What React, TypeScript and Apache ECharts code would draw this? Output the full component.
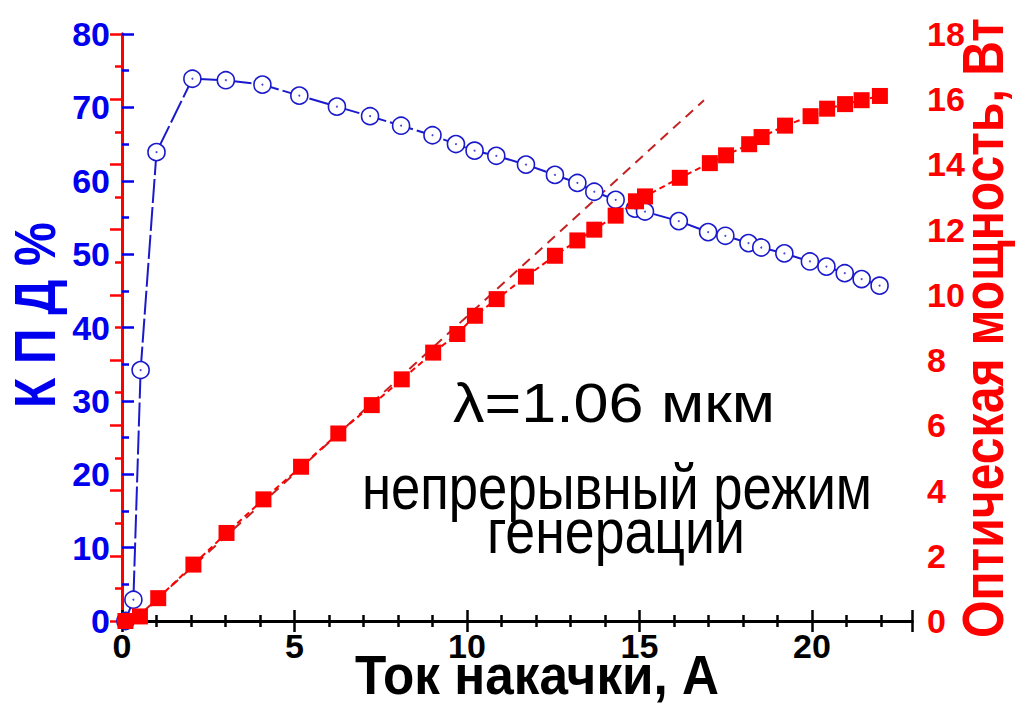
import React, { useEffect, useRef } from "react";
import * as echarts from "echarts";

// Efficiency (КПД, %) vs pump current (A)
const EFF_I = [0.1, 0.33, 0.54, 1.0, 2.04, 3.01, 4.07, 5.14, 6.23, 7.19, 8.09, 9.0, 9.68, 10.22, 10.85, 11.71, 12.55, 13.2, 13.69, 14.31, 14.87, 15.16, 16.14, 16.99, 17.49, 18.16, 18.53, 19.2, 19.94, 20.42, 20.95, 21.44, 21.96];
const EFF = [0, 2.9, 34.2, 63.9, 73.9, 73.7, 73.1, 71.6, 70.1, 68.8, 67.5, 66.2, 65.0, 64.1, 63.4, 62.2, 60.8, 59.7, 58.5, 57.4, 56.2, 55.8, 54.5, 53.0, 52.5, 51.5, 50.9, 50.1, 49.0, 48.3, 47.4, 46.6, 45.7];

// Optical power (W) vs pump current (A)
const POW_I = [0.1, 0.52, 1.05, 2.07, 3.03, 4.1, 5.19, 6.27, 7.24, 8.11, 9.02, 9.72, 10.23, 10.86, 11.71, 12.55, 13.2, 13.69, 14.31, 14.9, 15.16, 16.17, 17.04, 17.51, 18.18, 18.54, 19.22, 19.96, 20.44, 20.96, 21.44, 21.97];
const POW = [0, 0.14, 0.7, 1.73, 2.7, 3.73, 4.73, 5.75, 6.62, 7.41, 8.23, 8.8, 9.36, 9.87, 10.56, 11.2, 11.67, 12.0, 12.43, 12.87, 13.02, 13.59, 14.04, 14.28, 14.62, 14.84, 15.19, 15.48, 15.71, 15.85, 15.97, 16.1];

// Linear fit (dashed)
const FIT_I = [0.32, 16.87];
const FIT_P = [0, 15.97];

const X_TICKS = [0, 5, 10, 15, 20];
const LEFT_TICKS = [0, 10, 20, 30, 40, 50, 60, 70, 80];
const RIGHT_TICKS = [0, 2, 4, 6, 8, 10, 12, 14, 16, 18];

const X_TITLE = "Ток накачки, А";
const LEFT_TITLE = "К П Д %";
const RIGHT_TITLE = "Оптическая мощность, Вт";
const NOTE_1 = "λ=1.06 мкм";
const NOTE_2 = "непрерывный режим";
const NOTE_3 = "генерации";

const BLUE = "#0000ee";
const BLUE_MARK = "#1a1acc";
const RED = "#ff0000";
const FIT_RED = "#c42222";
const SANS = "'Liberation Sans', Arial, sans-serif";

const zip = (a: number[], b: number[]) => a.map((v, i) => [v, b[i]]);

function fitScale(text: string, font: string, target: number): number {
  const ctx = document.createElement("canvas").getContext("2d");
  if (!ctx) return 1;
  ctx.font = font;
  const w = ctx.measureText(text).width;
  return w > 0 ? target / w : 1;
}

export default function App() {
  const ref = useRef<HTMLDivElement>(null);
  useEffect(() => {
    if (!ref.current) return;
    const chart = echarts.init(ref.current, null, { renderer: "svg" });
    const tickLabel = (color: string) => ({
      color,
      fontSize: 34,
      fontWeight: "bold" as const,
      fontFamily: SANS,
    });
    const xCommon = {
      type: "value" as const,
      min: X_TICKS[0],
      max: 22.9,
      interval: X_TICKS[1] - X_TICKS[0],
      splitLine: { show: false },
      axisLine: { show: true, lineStyle: { color: "#000", width: 3 } },
      axisTick: { show: true, inside: true, length: 11, lineStyle: { color: "#000", width: 2.5 } },
      minorTick: { show: true, splitNumber: 5, length: 6, lineStyle: { color: "#000", width: 2.5 } },
    };
    const fontFor = (size: number, bold: boolean) => `${bold ? "bold " : ""}${size}px 'Liberation Sans', Arial, sans-serif`;
    const xTitleScale = fitScale(X_TITLE, fontFor(52, true), 364);
    const leftTitleScale = fitScale(LEFT_TITLE, fontFor(58, true), 186);
    const rightTitleScale = fitScale(RIGHT_TITLE, fontFor(55, true), 620);
    const note1Scale = fitScale(NOTE_1, fontFor(56, false), 322);
    const note2Scale = fitScale(NOTE_2, fontFor(52, false), 510);
    const note3Scale = fitScale(NOTE_3, fontFor(52, false), 258);

    chart.setOption({
      animation: false,
      backgroundColor: "#fff",
      grid: { left: 122, right: 103, top: 34, bottom: 85, containLabel: false, outerBoundsMode: "none" },
      xAxis: [
        {
          ...xCommon,
          position: "bottom",
          axisLabel: { ...tickLabel("#000"), margin: 8, showMaxLabel: false, formatter: (v: number) => (X_TICKS.includes(v) ? String(v) : "") },
        },
        {
          ...xCommon,
          position: "top",
          axisLabel: { show: false },
        },
      ],
      yAxis: [
        {
          type: "value",
          position: "left",
          min: LEFT_TICKS[0],
          max: LEFT_TICKS[LEFT_TICKS.length - 1],
          interval: LEFT_TICKS[1] - LEFT_TICKS[0],
          splitLine: { show: false },
          axisLine: { show: true, lineStyle: { color: BLUE, width: 3 } },
          axisTick: { show: true, inside: true, length: 12, lineStyle: { color: BLUE, width: 2.5 } },
          minorTick: { show: true, splitNumber: 2, length: 7, lineStyle: { color: BLUE, width: 2.5 } },
          axisLabel: { ...tickLabel(BLUE), margin: 12 },
        },
        {
          type: "value",
          position: "right",
          min: RIGHT_TICKS[0],
          max: RIGHT_TICKS[RIGHT_TICKS.length - 1],
          interval: RIGHT_TICKS[1] - RIGHT_TICKS[0],
          splitLine: { show: false },
          axisLine: { show: true, lineStyle: { color: RED, width: 3 } },
          axisTick: { show: true, inside: true, length: 12, lineStyle: { color: RED, width: 2.5 } },
          minorTick: { show: true, splitNumber: 2, length: 7, lineStyle: { color: RED, width: 2.5 } },
          axisLabel: { ...tickLabel(RED), margin: 15 },
        },
      ],
      series: [
        {
          name: "fit",
          type: "line",
          yAxisIndex: 1,
          data: zip(FIT_I, FIT_P),
          showSymbol: false,
          symbol: "none",
          lineStyle: { color: FIT_RED, width: 2, type: [10, 7] },
          z: 2,
          silent: true,
        },
        {
          name: "КПД",
          type: "line",
          yAxisIndex: 0,
          data: zip(EFF_I, EFF),
          symbol: "circle",
          symbolSize: 17,
          itemStyle: { color: "#fff", borderColor: BLUE_MARK, borderWidth: 1.6 },
          lineStyle: { color: BLUE_MARK, width: 2, type: [24, 4] },
          z: 3,
          silent: true,
        },
        {
          name: "КПД центр",
          type: "scatter",
          yAxisIndex: 0,
          data: zip(EFF_I, EFF),
          symbol: "circle",
          symbolSize: 2,
          itemStyle: { color: BLUE_MARK },
          z: 4,
          silent: true,
        },
        {
          name: "Мощность",
          type: "line",
          yAxisIndex: 1,
          data: zip(POW_I, POW),
          symbol: "rect",
          symbolSize: 16,
          itemStyle: { color: RED },
          lineStyle: { color: RED, width: 2, type: [6, 4] },
          z: 5,
          silent: true,
        },
      ],
      graphic: [
        {
          type: "text",
          x: 537,
          y: 674,
          scaleX: xTitleScale,
          scaleY: 1.08,
          style: { text: X_TITLE, fontSize: 52, fontWeight: "bold", fontFamily: SANS, fill: "#000", align: "center", verticalAlign: "middle" },
          z: 10,
        },
        {
          type: "text",
          x: 35,
          y: 315,
          rotation: Math.PI / 2,
          scaleX: leftTitleScale,
          style: { text: LEFT_TITLE, fontSize: 58, fontWeight: "bold", fontFamily: SANS, fill: BLUE, align: "center", verticalAlign: "middle" },
          z: 10,
        },
        {
          type: "text",
          x: 983,
          y: 328,
          rotation: Math.PI / 2,
          scaleX: rightTitleScale,
          scaleY: 1.04,
          style: { text: RIGHT_TITLE, fontSize: 55, fontWeight: "bold", fontFamily: SANS, fill: RED, align: "center", verticalAlign: "middle" },
          z: 10,
        },
        {
          type: "text",
          x: 614,
          y: 403,
          scaleX: note1Scale,
          style: { text: NOTE_1, fontSize: 56, fontFamily: SANS, fill: "#000", align: "center", verticalAlign: "middle" },
          z: 10,
        },
        {
          type: "text",
          x: 617,
          y: 487,
          scaleX: note2Scale,
          scaleY: 1.2,
          style: { text: NOTE_2, fontSize: 52, fontFamily: SANS, fill: "#000", align: "center", verticalAlign: "middle" },
          z: 10,
        },
        {
          type: "text",
          x: 616,
          y: 531,
          scaleX: note3Scale,
          scaleY: 1.2,
          style: { text: NOTE_3, fontSize: 52, fontFamily: SANS, fill: "#000", align: "center", verticalAlign: "middle" },
          z: 10,
        },
      ],
    });
    return () => chart.dispose();
  }, []);
  return <div ref={ref} style={{ position: "fixed", left: 0, top: 0, width: 1015, height: 706 }} />;
}
